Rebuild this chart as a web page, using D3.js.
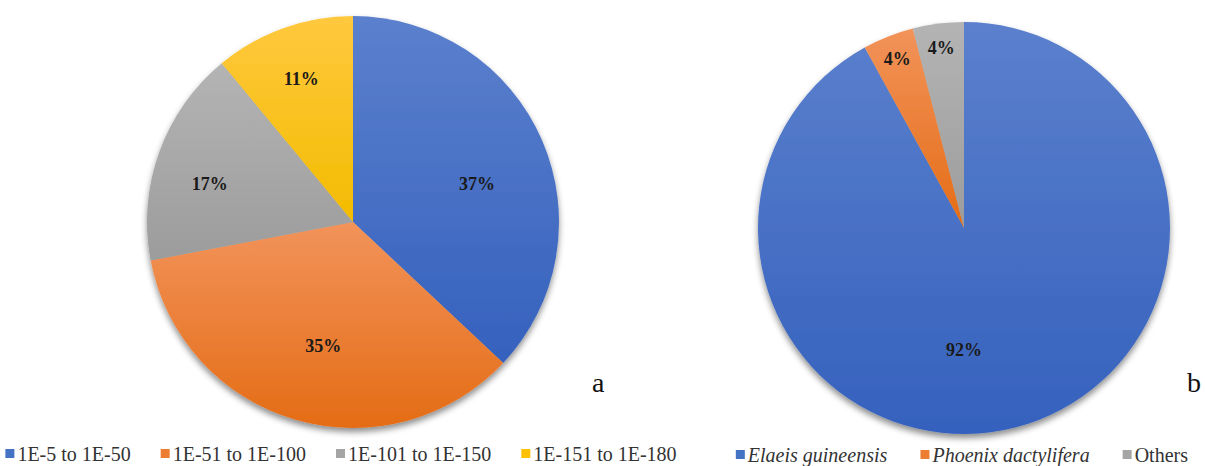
<!DOCTYPE html>
<html><head><meta charset="utf-8">
<script src="https://cdn.jsdelivr.net/npm/d3@7"></script>
<style>
html,body{margin:0;padding:0;background:#fff;}
svg{display:block;}
.serif{font-family:"Liberation Serif","DejaVu Serif","Times New Roman",Times,serif;}
</style>
</head><body>
<svg id="chart" width="1205" height="466"></svg>
<script>
// ---- data ----
const categoriesA = ["1E-5 to 1E-50", "1E-51 to 1E-100", "1E-101 to 1E-150", "1E-151 to 1E-180"];
const valuesA = [37, 35, 17, 11];
const categoriesB = ["Elaeis guineensis", "Phoenix dactylifera", "Others"];
const valuesB = [92, 4, 4];
const panelLabels = ["a", "b"];

// ---- styles ----
const palette = {
  blue:   ["#5b80cd", "#3561bd"],
  orange: ["#f2935a", "#e46c15"],
  gray:   ["#b4b4b4", "#9c9c9c"],
  yellow: ["#ffc83e", "#f3bc00"]
};
const colorsA = ["blue", "orange", "gray", "yellow"];
const colorsB = ["blue", "orange", "gray"];
const legendSwatch = {blue: "#4472c4", orange: "#ed7d31", gray: "#a5a5a5", yellow: "#ffc000"};
// label placement (fraction of radius, optional angle override in degrees)
const labelFracA = [0.63, 0.62, 0.72, 0.74];
const labelAngleA = [73, 193.5, 285, null];
const labelFracB = [0.59, 0.88, 0.88];
const labelAngleB = [180, null, null];

const svg = d3.select("#chart");
const defs = svg.append("defs");
Object.entries(palette).forEach(([k, c]) => {
  const g = defs.append("linearGradient").attr("id", "grad-" + k)
    .attr("x1", 0).attr("y1", 0).attr("x2", 0).attr("y2", 1);
  g.append("stop").attr("offset", "0%").attr("stop-color", c[0]);
  g.append("stop").attr("offset", "100%").attr("stop-color", c[1]);
});
const f = defs.append("filter").attr("id", "shadow")
  .attr("x", "-10%").attr("y", "-10%").attr("width", "120%").attr("height", "125%");
f.append("feDropShadow").attr("dx", 0).attr("dy", 4).attr("stdDeviation", 3)
  .attr("flood-color", "#000").attr("flood-opacity", 0.45);

function drawPie(cfg) {
  const g = svg.append("g").attr("transform", `translate(${cfg.cx},${cfg.cy})`);
  const pie = d3.pie().sort(null).value(d => d);
  const arcs = pie(cfg.values);
  const arc = d3.arc().innerRadius(0).outerRadius(cfg.r);
  const pg = g.append("g").attr("filter", "url(#shadow)");
  pg.selectAll("path").data(arcs).join("path")
    .attr("d", arc)
    .attr("fill", (d, i) => `url(#grad-${cfg.colors[i]})`);
  g.selectAll("text.lbl").data(arcs).join("text")
    .attr("class", "lbl serif")
    .attr("transform", (d, i) => {
      const rr = cfg.r * cfg.labelFrac[i];
      const ov = cfg.labelAngle ? cfg.labelAngle[i] : null;
      const a = (ov != null) ? ov * Math.PI / 180 : (d.startAngle + d.endAngle) / 2;
      return `translate(${Math.sin(a) * rr},${-Math.cos(a) * rr})`;
    })
    .attr("text-anchor", "middle").attr("dominant-baseline", "central")
    .attr("font-weight", "bold").attr("font-size", 18).attr("fill", "#1a1a1a")
    .text(d => d.data + "%");

  // panel letter
  svg.append("text").attr("class", "serif").attr("x", cfg.letterX).attr("y", cfg.letterY)
    .attr("font-size", 28).attr("fill", "#111").text(cfg.letter);

  // legend
  const lg = svg.append("g");
  const items = lg.selectAll("g").data(cfg.categories).join("g");
  items.append("rect").attr("width", 9).attr("height", 9).attr("y", -5)
    .attr("fill", (d, i) => legendSwatch[cfg.colors[i]]);
  items.append("text").attr("class", "serif").attr("x", 12).attr("y", 0)
    .attr("dominant-baseline", "central")
    .attr("font-size", 20)
    .attr("font-style", (d, i) => (cfg.italic && i < cfg.categories.length - 1) ? "italic" : "normal")
    .attr("fill", "#333").text(d => d);
  let x = 0;
  const gap = cfg.legendGap;
  items.each(function () {
    const w = this.getBBox().width;
    d3.select(this).attr("transform", `translate(${x},0)`);
    x += w + gap;
  });
  const total = x - gap;
  lg.attr("transform", `translate(${cfg.cx - total / 2 + cfg.legendShift},${cfg.legendY})`);
}

drawPie({cx: 353, cy: 222, r: 206, values: valuesA, colors: colorsA, categories: categoriesA,
  labelFrac: labelFracA, labelAngle: labelAngleA, letter: panelLabels[0], letterX: 592, letterY: 392,
  legendY: 454, legendGap: 30, legendShift: -12, italic: false});
drawPie({cx: 964, cy: 228, r: 206, values: valuesB, colors: colorsB, categories: categoriesB,
  labelFrac: labelFracB, labelAngle: labelAngleB, letter: panelLabels[1], letterX: 1187, letterY: 392,
  legendY: 455, legendGap: 33, legendShift: -2, italic: true});
</script>
</body></html>
